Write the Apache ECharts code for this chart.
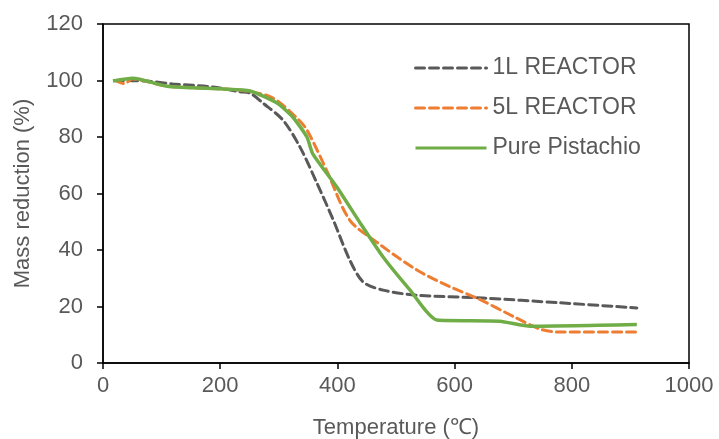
<!DOCTYPE html>
<html>
<head>
<meta charset="UTF-8">
<script src="https://cdn.jsdelivr.net/npm/echarts@6/dist/echarts.min.js"></script>
<style>
  html, body { margin: 0; padding: 0; background: #fff; }
  #main { width: 719px; height: 439px; }
</style>
</head>
<body>
<div id="main"></div>
<script>
// [temperature, mass %]
var reactor1L = [[20,100],[75,99.8],[119,98.8],[188,97.7],[234,96],[251,95.5],[273,92],[307,86],[336,76.5],[365,63.7],[393,50.6],[421,36.5],[444,28.7],[478,25.8],[535,24],[648,23],[780,21.3],[911,19.5]];
var reactor5L = [[20,100],[37,98.9],[50,100.5],[109,98],[205,97],[245,96.3],[290,93.8],[331,86.7],[348,82.5],[382,68],[421,50.6],[467,42.8],[535,33],[592,27],[643,22.5],[700,16.5],[746,12],[775,11],[911,11]];
var purePistachio = [[17,99.8],[51,100.8],[109,98],[205,97],[251,96.3],[297,92],[324,87],[348,80],[358,74],[399,62.3],[439,49.5],[478,37.5],[524,25.8],[570,15.2],[677,14.8],[729,13],[911,13.6]];

var textColor = '#595959';
var font = 'Liberation Sans';
var chart = echarts.init(document.getElementById('main'));
chart.setOption({
  animation: false,
  grid: { left: 103, right: 30, top: 24, bottom: 76, containLabel: false, outerBoundsMode: 'none',
    show: true, borderColor: '#000', borderWidth: 1.5 },
  legend: {
    left: 414, top: 56, padding: 0, orient: 'vertical', itemGap: 16, itemWidth: 71, itemHeight: 24,
    itemStyle: { opacity: 0 },
    lineStyle: { width: 3 },
    textStyle: { fontFamily: font, fontSize: 23, lineHeight: 24, color: textColor, padding: [0, 0, 0, 1] },
    data: ['1L REACTOR', '5L REACTOR', 'Pure Pistachio']
  },
  xAxis: {
    type: 'value', min: 0, max: 1000, interval: 200,
    name: 'Temperature (℃)', nameLocation: 'middle', nameGap: 54,
    nameTextStyle: { fontFamily: font, fontSize: 22, color: textColor },
    axisLine: { lineStyle: { color: '#000', width: 1.5 } },
    axisTick: { show: true, length: 6, lineStyle: { color: '#000', width: 1.5 } },
    axisLabel: { fontFamily: font, fontSize: 22, color: textColor, margin: 12,
      formatter: function (v) { return String(v); } },
    splitLine: { show: false }
  },
  yAxis: {
    type: 'value', min: 0, max: 120, interval: 20,
    name: 'Mass reduction (%)', nameLocation: 'middle', nameGap: 69,
    nameTextStyle: { fontFamily: font, fontSize: 22, color: textColor },
    axisLine: { show: true, lineStyle: { color: '#000', width: 1.5 } },
    axisTick: { show: true, length: 6, lineStyle: { color: '#000', width: 1.5 } },
    axisLabel: { fontFamily: font, fontSize: 22, color: textColor, margin: 20 },
    splitLine: { show: false }
  },
  series: [
    {
      name: '1L REACTOR', type: 'line', data: reactor1L, symbol: 'none', smooth: 0.3,
      itemStyle: { color: '#595959' },
      lineStyle: { color: '#595959', width: 3, type: [9, 5], cap: 'round' }
    },
    {
      name: '5L REACTOR', type: 'line', data: reactor5L, symbol: 'none', smooth: 0.3,
      itemStyle: { color: '#ED7D31' },
      lineStyle: { color: '#ED7D31', width: 3, type: [9, 5], cap: 'round' }
    },
    {
      name: 'Pure Pistachio', type: 'line', data: purePistachio, symbol: 'none', smooth: 0.2,
      itemStyle: { color: '#70AD47' },
      lineStyle: { color: '#70AD47', width: 3.5 }
    }
  ]
});
</script>
</body>
</html>
